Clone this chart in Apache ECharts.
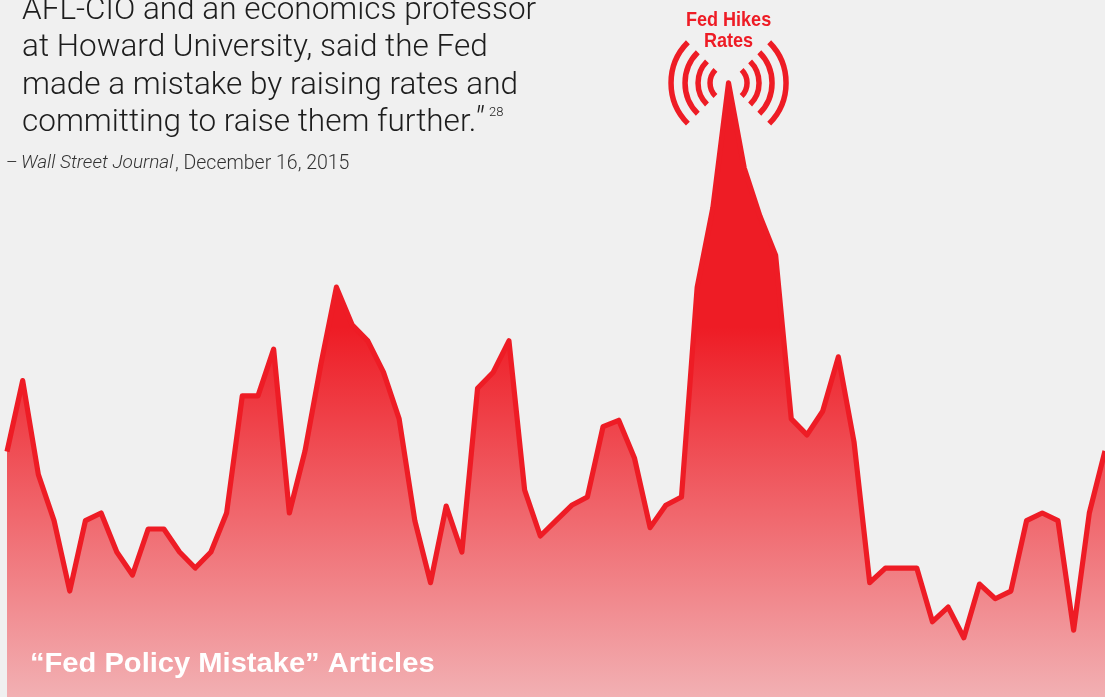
<!DOCTYPE html>
<html><head><meta charset="utf-8">
<style>html,body{margin:0;padding:0;background:#f0f0f0}#c{width:1105px;height:697px}</style>
<script src="https://cdn.jsdelivr.net/npm/echarts@6/dist/echarts.min.js"></script>
</head><body><div id="c"></div>
<script>
const articleCounts = [35.2,45.4,31.9,25.3,15.2,25.3,26.4,20.8,17.5,24.1,24.1,20.8,18.5,20.8,26.4,43.2,43.2,49.9,26.4,35.3,47.6,58.8,53.4,51.1,46.6,39.9,25.3,16.4,27.4,20.8,44.3,46.6,51.1,29.7,23.1,25.3,27.5,28.7,38.8,39.7,34.3,24.3,27.5,28.7,58.8,70.2,88.1,75.9,69.0,63.4,39.9,37.6,41.0,48.8,36.6,16.4,18.5,18.5,18.5,10.8,12.9,8.5,16.2,14.1,15.2,25.3,26.4,25.3,9.6,26.4,35.3];
const periods = articleCounts.map((_, i) => 'P' + (i + 1));
const quoteLines = ['AFL-CIO and an economics professor','at Howard University, said the Fed','made a mistake by raising rates and','committing to raise them further.'];
const seriesLabel = '“Fed Policy Mistake” Articles';
const waveRadii = [18.5, 30.5, 43.5, 57.5];
const RED = '#ee1c25';
const chart = echarts.init(document.getElementById('c'), null, {renderer:'canvas'});
const BODY = 'Roboto, "Liberation Sans", sans-serif';
const Z = 10;
const staticText = [
  ...quoteLines.map((t,i)=>({type:'text',z:Z,left:22,top:-5+i*37.5,style:{text:t,font:'300 31.5px '+BODY,fill:'#1d1d1d'}})),
  {type:'text',z:Z,left:474,top:105,style:{text:'″',font:'italic 300 33px '+BODY,fill:'#1d1d1d'}},
  {type:'text',z:Z,left:489,top:106,style:{text:'28',font:'300 13px '+BODY,fill:'#1d1d1d'}},
  {type:'text',z:Z,left:6,top:154,style:{text:'–',font:'300 18px '+BODY,fill:'#333'}},
  {type:'text',z:Z,left:21,top:154,style:{text:'Wall Street Journal',font:'italic 300 19px '+BODY,fill:'#333'}},
  {type:'text',z:Z,left:175,top:154,style:{text:', December 16, 2015',font:'300 19.5px '+BODY,fill:'#333'}},
  {type:'text',z:Z,x:30,y:650,scaleX:1.04,style:{text:seriesLabel,font:'bold 28px "Liberation Sans", sans-serif',fill:'#fff'}},
];
chart.setOption({
  animation:false,
  backgroundColor:'#f0f0f0',
  grid:{left:7,right:0,top:0,bottom:0},
  xAxis:{type:'category',data:periods,boundaryGap:false,show:false},
  yAxis:{type:'value',min:0,max:100,show:false},
  series:[{type:'line',data:articleCounts,showSymbol:false,symbol:'none',smooth:false,
    lineStyle:{color:RED,width:5.2,join:'round',cap:'butt'},
    areaStyle:{opacity:1,color:new echarts.graphic.LinearGradient(0,0,0,697,[
      {offset:0,color:RED},{offset:0.47,color:RED},{offset:1,color:'#f2b0b3'}],true)}}]
});
const peak = articleCounts.indexOf(Math.max(...articleCounts));
const [px,py] = chart.convertToPixel({xAxisIndex:0,yAxisIndex:0},[peak,articleCounts[peak]]);
const arcs=[];
waveRadii.forEach(r=>{
  [[Math.PI*0.75,Math.PI*1.25],[-Math.PI*0.25,Math.PI*0.25]].forEach(a=>{
    arcs.push({type:'arc',z:Z,shape:{cx:px,cy:py,r:r,startAngle:a[0],endAngle:a[1],clockwise:true},
      style:{stroke:RED,lineWidth:5.5,fill:null,lineCap:'butt'}});
  });
});
const capFont='bold 21px "Liberation Sans", sans-serif';
const capt=[
 {type:'text',z:Z,x:px,y:10,scaleX:0.86,style:{text:'Fed Hikes',align:'center',font:capFont,fill:RED}},
 {type:'text',z:Z,x:px,y:31,scaleX:0.86,style:{text:'Rates',align:'center',font:capFont,fill:RED}}
];
chart.setOption({graphic:{elements:[...staticText,...arcs,...capt]}});
</script></body></html>
